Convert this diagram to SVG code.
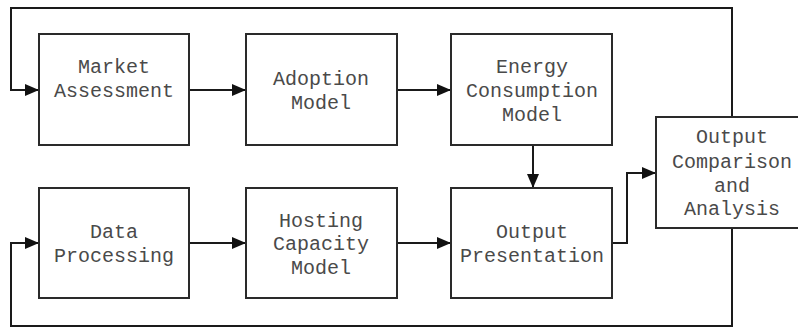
<svg xmlns="http://www.w3.org/2000/svg" width="798" height="328" viewBox="0 0 798 328">
  <style>
    .box { fill: #ffffff; stroke: #2a2a2a; stroke-width: 2; }
    .lbl { font-family: "Liberation Mono", "DejaVu Sans Mono", monospace; font-size: 20px; fill: #4a4a4a; text-anchor: middle; }
    .wire { fill: none; stroke: #1a1a1a; stroke-width: 2; }
  </style>
  <defs>
    <marker id="arrow" viewBox="0 0 14 12" refX="14" refY="6" markerWidth="14" markerHeight="12" markerUnits="userSpaceOnUse" orient="auto">
      <path d="M0,0 L14,6 L0,12 Z" fill="#111111"/>
    </marker>
  </defs>

  <rect width="798" height="328" fill="#ffffff"/>

  <g id="connectors">
    <!-- feedback loop across the top into Market Assessment -->
    <path class="wire" d="M732,117 V8 H11 V90 H39" marker-end="url(#arrow)"/>
    <!-- feedback loop across the bottom into Data Processing -->
    <path class="wire" d="M732,228 V326 H11 V243 H39" marker-end="url(#arrow)"/>
    <path class="wire" d="M189,90 H246" marker-end="url(#arrow)"/>
    <path class="wire" d="M397,90 H451" marker-end="url(#arrow)"/>
    <path class="wire" d="M533,145 V188" marker-end="url(#arrow)"/>
    <path class="wire" d="M189,243 H246" marker-end="url(#arrow)"/>
    <path class="wire" d="M397,243 H451" marker-end="url(#arrow)"/>
    <path class="wire" d="M612,243 H627 V173 H656" marker-end="url(#arrow)"/>
  </g>

  <g id="market-assessment">
    <rect class="box" x="39" y="34" width="150" height="111"/>
    <text class="lbl" x="114" y="73">Market</text>
    <text class="lbl" x="114" y="97">Assessment</text>
  </g>

  <g id="adoption-model">
    <rect class="box" x="246" y="34" width="151" height="111"/>
    <text class="lbl" x="321" y="85">Adoption</text>
    <text class="lbl" x="321" y="109">Model</text>
  </g>

  <g id="energy-consumption-model">
    <rect class="box" x="451" y="34" width="161" height="111"/>
    <text class="lbl" x="532" y="73">Energy</text>
    <text class="lbl" x="532" y="97">Consumption</text>
    <text class="lbl" x="532" y="121">Model</text>
  </g>

  <g id="data-processing">
    <rect class="box" x="39" y="188" width="150" height="110"/>
    <text class="lbl" x="114" y="238">Data</text>
    <text class="lbl" x="114" y="262">Processing</text>
  </g>

  <g id="hosting-capacity-model">
    <rect class="box" x="246" y="188" width="151" height="110"/>
    <text class="lbl" x="321" y="227">Hosting</text>
    <text class="lbl" x="321" y="250">Capacity</text>
    <text class="lbl" x="321" y="274">Model</text>
  </g>

  <g id="output-presentation">
    <rect class="box" x="451" y="188" width="161" height="110"/>
    <text class="lbl" x="532" y="238">Output</text>
    <text class="lbl" x="532" y="262">Presentation</text>
  </g>

  <g id="output-comparison-analysis">
    <rect class="box" x="656" y="117" width="152" height="111"/>
    <text class="lbl" x="732" y="143">Output</text>
    <text class="lbl" x="732" y="168">Comparison</text>
    <text class="lbl" x="732" y="192">and</text>
    <text class="lbl" x="732" y="215">Analysis</text>
  </g>
</svg>
